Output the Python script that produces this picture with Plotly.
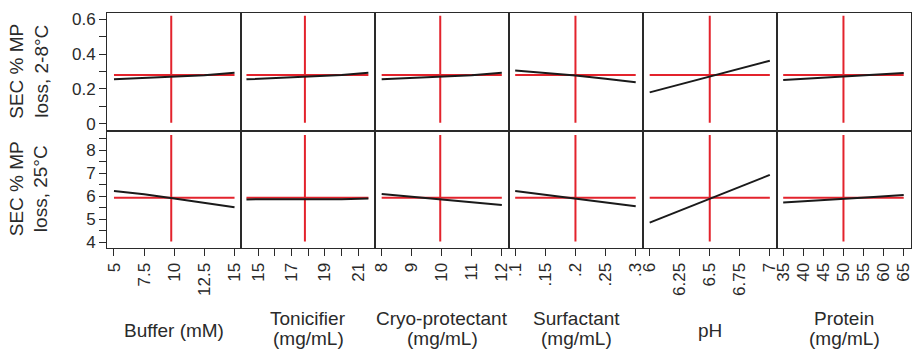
import plotly.graph_objects as go
from plotly.subplots import make_subplots

# Factor settings (x) and predicted SEC % main-peak loss for each storage condition
buffer_mM = [5, 7.5, 10, 12.5, 15]
buffer_loss_cold = [0.255, 0.262, 0.268, 0.278, 0.293]
buffer_loss_warm = [6.22, 6.08, 5.90, 5.72, 5.52]

tonicifier_mg = [14.3, 16, 18, 20, 21.6]
tonicifier_loss_cold = [0.255, 0.262, 0.270, 0.280, 0.293]
tonicifier_loss_warm = [5.86, 5.86, 5.87, 5.87, 5.90]

cryo_mg = [8, 9, 10, 11, 12]
cryo_loss_cold = [0.255, 0.262, 0.270, 0.279, 0.293]
cryo_loss_warm = [6.09, 5.97, 5.86, 5.74, 5.62]

surfactant_mg = [0.1, 0.15, 0.2, 0.25, 0.3]
surfactant_loss_cold = [0.305, 0.293, 0.277, 0.258, 0.238]
surfactant_loss_warm = [6.22, 6.05, 5.90, 5.72, 5.56]

ph_values = [6, 6.25, 6.5, 6.75, 7]
ph_loss_cold = [0.180, 0.225, 0.270, 0.315, 0.362]
ph_loss_warm = [4.85, 5.37, 5.90, 6.41, 6.92]

protein_mg = [35, 42.5, 50, 57.5, 65]
protein_loss_cold = [0.251, 0.260, 0.270, 0.280, 0.291]
protein_loss_warm = [5.73, 5.80, 5.88, 5.96, 6.05]

# Selected optimum for each factor and the predicted response there
optimum_setting = [9.75, 17.8, 9.95, 0.2, 6.5, 50]
optimum_loss_cold = 0.28
optimum_loss_warm = 5.93

factor_titles = [["Buffer (mM)"], ["Tonicifier", "(mg/mL)"], ["Cryo-protectant", "(mg/mL)"],
                 ["Surfactant", "(mg/mL)"], ["pH"], ["Protein", "(mg/mL)"]]
row_titles = ["SEC % MP<br>loss, 2-8°C", "SEC % MP<br>loss, 25°C"]

x_tickvals = [
    [5, 7.5, 10, 12.5, 15],
    [15, 16, 17, 18, 19, 20, 21],
    [8, 9, 10, 11, 12],
    [0.1, 0.15, 0.2, 0.25, 0.3],
    [6, 6.25, 6.5, 6.75, 7],
    [35, 40, 45, 50, 55, 60, 65],
]
x_ticktext = [
    ["5", "7.5", "10", "12.5", "15"],
    ["15", "", "17", "", "19", "", "21"],
    ["8", "9", "10", "11", "12"],
    [".1", ".15", ".2", ".25", ".3"],
    ["6", "6.25", "6.5", "6.75", "7"],
    ["35", "40", "45", "50", "55", "60", "65"],
]
x_ranges = [[4.421, 15.537], [13.974, 21.996], [7.778, 12.239],
            [0.08975, 0.31207], [5.9444, 7.0597], [33.46, 66.81]]

y_cold_ticks = [0, 0.1, 0.2, 0.3, 0.4, 0.5, 0.6]
y_cold_text = ["0", "", "0.2", "", "0.4", "", "0.6"]
y_warm_ticks = [4, 4.5, 5, 5.5, 6, 6.5, 7, 7.5, 8, 8.5]
y_warm_text = ["4", "", "5", "", "6", "", "7", "", "8", ""]

xs = [buffer_mM, tonicifier_mg, cryo_mg, surfactant_mg, ph_values, protein_mg]
cold = [buffer_loss_cold, tonicifier_loss_cold, cryo_loss_cold,
        surfactant_loss_cold, ph_loss_cold, protein_loss_cold]
warm = [buffer_loss_warm, tonicifier_loss_warm, cryo_loss_warm,
        surfactant_loss_warm, ph_loss_warm, protein_loss_warm]

RED = "#e3232c"
INK = "#2a2a2a"
FONT = "Liberation Sans, Arial, sans-serif"

fig = make_subplots(rows=2, cols=6, horizontal_spacing=0, vertical_spacing=0)

# vertical extent of the optimum marker in each row
v_span = {1: (0.005, 0.62), 2: (4.03, 8.65)}

for c in range(6):
    for r, series, level in ((1, cold[c], optimum_loss_cold), (2, warm[c], optimum_loss_warm)):
        x = xs[c]
        fig.add_trace(go.Scatter(x=[min(x), max(x)], y=[level, level], mode="lines",
                                 line=dict(color=RED, width=2), hoverinfo="skip"),
                      row=r, col=c + 1)
        fig.add_trace(go.Scatter(x=[optimum_setting[c]] * 2, y=list(v_span[r]), mode="lines",
                                 line=dict(color=RED, width=2), hoverinfo="skip"),
                      row=r, col=c + 1)
        fig.add_trace(go.Scatter(x=x, y=series, mode="lines",
                                 line=dict(color="#1a1a1a", width=2)),
                      row=r, col=c + 1)

axis_common = dict(showline=True, mirror=True, linecolor=INK, linewidth=1,
                   showgrid=False, zeroline=False,
                   tickfont=dict(family=FONT, size=17, color=INK))

for c in range(6):
    for r in (1, 2):
        bottom = r == 2
        fig.update_xaxes(range=x_ranges[c], tickvals=x_tickvals[c], ticktext=x_ticktext[c],
                         ticks="outside" if bottom else "", ticklen=7, tickcolor=INK,
                         showticklabels=bottom, tickangle=-90, **axis_common,
                         row=r, col=c + 1)
        first = c == 0
        if r == 1:
            fig.update_yaxes(range=[-0.039, 0.636], tickvals=y_cold_ticks, ticktext=y_cold_text,
                             row=r, col=c + 1)
        else:
            fig.update_yaxes(range=[3.753, 8.845], tickvals=y_warm_ticks, ticktext=y_warm_text,
                             row=r, col=c + 1)
        fig.update_yaxes(ticks="outside" if first else "", ticklen=7, tickcolor=INK,
                         showticklabels=first, **axis_common, row=r, col=c + 1)

annotations = []
title_font = dict(family=FONT, size=19, color=INK)
for c, lines in enumerate(factor_titles):
    ys = [-0.349] if len(lines) == 1 else [-0.298, -0.383]
    for text, y in zip(lines, ys):
        annotations.append(dict(text=text, xref="paper", yref="paper",
                                x=(c + 0.5) / 6, y=y, xanchor="center", yanchor="middle",
                                showarrow=False, font=title_font))
for r, title in enumerate(row_titles):
    annotations.append(dict(text=title, xref="paper", yref="paper",
                            x=-0.097, y=0.75 - 0.5 * r, xanchor="center", yanchor="middle",
                            textangle=-90, showarrow=False, font=title_font))

fig.update_layout(width=920, height=358, margin=dict(l=107, r=6, t=13, b=110),
                  paper_bgcolor="white", plot_bgcolor="white", showlegend=False,
                  annotations=annotations)

fig.write_html("out.html")
